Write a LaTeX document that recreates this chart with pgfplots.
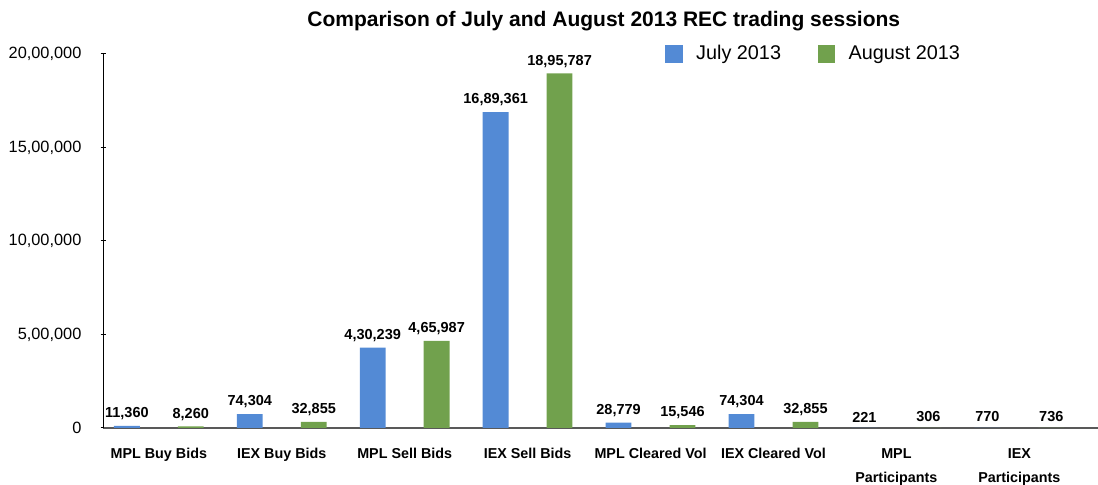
\documentclass[border=0pt]{standalone}
\usepackage{fontspec}
\setmainfont{Liberation Sans}
\usepackage{pgfplots}
\pgfplotsset{compat=1.18}

\definecolor{julyblue}{RGB}{83,138,213}
\definecolor{auggreen}{RGB}{113,161,77}

\begin{document}
\begin{tikzpicture}
\begin{axis}[
    scale only axis,
    width=596.7pt, height=224.4pt,
    xmin=-0.45, xmax=7.64,
    ymin=0, ymax=2000000,
    axis lines*=left,
    x axis line style={draw=black!65, line width=0.9pt},
    y axis line style={draw=black, line width=0.7pt},
    xtick={0,...,7},
    xticklabels={MPL Buy Bids, IEX Buy Bids, MPL Sell Bids, IEX Sell Bids,
        MPL Cleared Vol, IEX Cleared Vol, {MPL\\Participants}, {IEX\\Participants}},
    x tick style={draw=none},
    xticklabel style={font=\fontsize{8.6}{14.6}\selectfont\bfseries, align=center,
        anchor=north, inner ysep=0pt, yshift=-8.6pt},
    ytick={0,500000,1000000,1500000,2000000},
    yticklabels={0,{5,00,000},{10,00,000},{15,00,000},{20,00,000}},
    y tick style={draw=black, line width=0.6pt},
    tick align=center,
    major tick length=3.5pt,
    yticklabel style={font=\fontsize{9.8}{12}\selectfont, xshift=-8pt},
    scaled y ticks=false,
    ybar, bar shift=0pt, bar width=0.21,
    point meta=explicit symbolic,
    nodes near coords,
    every node near coord/.append style={font=\fontsize{8.7}{10}\selectfont\bfseries, black},
    title={Comparison of July and August 2013 REC trading sessions},
    title style={font=\fontsize{12.6}{15}\selectfont\bfseries, at={(0.503,1)}, anchor=base, yshift=10.6pt},
    legend columns=2,
    legend style={draw=none, fill=none, at={(0.5646,1)}, anchor=west, inner sep=0pt,
        font=\fontsize{11.9}{14}\selectfont,
        /tikz/every even column/.append style={column sep=14pt},
        nodes={inner xsep=8pt}},
    legend image code/.code={\fill[#1] (0pt,-5.2pt) rectangle (10.5pt,5.2pt);},
]
\addplot[fill=julyblue, draw=none] table[meta=label] {
x     y       label
-0.26 11360   11,360
0.74  74304   74,304
1.74  430239  4,30,239
2.74  1689361 16,89,361
3.74  28779   28,779
4.74  74304   74,304
5.74  221     221
6.74  770     770
};
\addlegendentry{July 2013}
\addplot[fill=auggreen, draw=none] table[meta=label] {
x     y       label
0.26  8260    8,260
1.26  32855   32,855
2.26  465987  4,65,987
3.26  1895787 18,95,787
4.26  15546   15,546
5.26  32855   32,855
6.26  306     306
7.26  736     736
};
\addlegendentry{August 2013}
\end{axis}
\pgfresetboundingbox
\path (current axis.south west) ++(-62.1pt,-34.2pt) rectangle ++(658.8pt,291pt);
\end{tikzpicture}
\end{document}
